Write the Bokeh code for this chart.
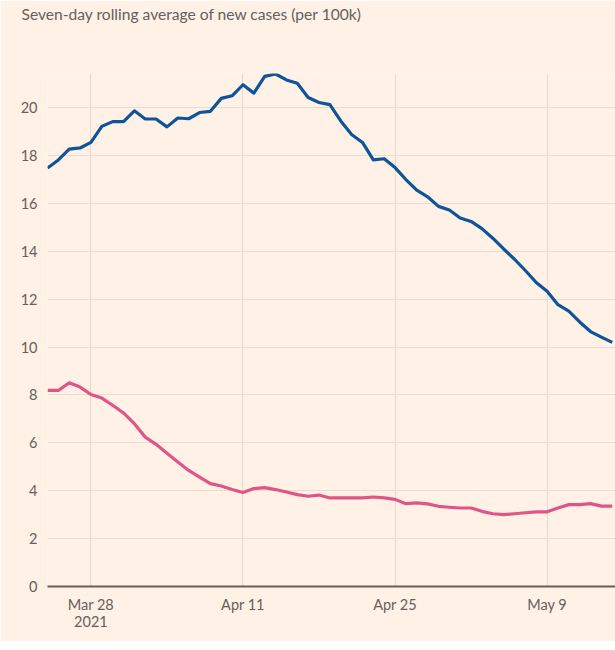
import pandas as pd
from bokeh.plotting import figure
from bokeh.models import FixedTicker, DatetimeTickFormatter, Range1d, Title
from bokeh.embed import file_html
from bokeh.resources import INLINE

# ---- data ----
dates = pd.date_range("2021-03-24", "2021-05-15", freq="D")
blue_series = [17.48, 17.82, 18.27, 18.32, 18.55, 19.22, 19.42, 19.42, 19.87, 19.53,
               19.53, 19.20, 19.57, 19.54, 19.80, 19.85, 20.39, 20.50, 20.96, 20.61,
               21.31, 21.41, 21.16, 21.02, 20.43, 20.22, 20.13, 19.45, 18.88, 18.55,
               17.82, 17.87, 17.50, 17.00, 16.56, 16.28, 15.88, 15.73, 15.39, 15.25,
               14.95, 14.55, 14.10, 13.67, 13.20, 12.70, 12.33, 11.77, 11.50, 11.05,
               10.65, 10.42, 10.20]
pink_series = [8.19, 8.19, 8.51, 8.33, 8.02, 7.87, 7.57, 7.25, 6.80, 6.24,
               5.94, 5.57, 5.20, 4.85, 4.57, 4.30, 4.20, 4.05, 3.93, 4.09,
               4.13, 4.05, 3.95, 3.84, 3.77, 3.82, 3.70, 3.70, 3.70, 3.70,
               3.74, 3.70, 3.64, 3.46, 3.49, 3.45, 3.35, 3.31, 3.28, 3.28,
               3.14, 3.04, 3.00, 3.04, 3.08, 3.12, 3.12, 3.28, 3.42, 3.42,
               3.46, 3.36, 3.36]
x_tick_dates = ["2021-03-28", "2021-04-11", "2021-04-25", "2021-05-09"]
y_ticks = [0, 2, 4, 6, 8, 10, 12, 14, 16, 18, 20]
title_text = "Seven-day rolling average of new cases (per 100k)"

BG = "#FFF1E5"
GRID = "#E9DCD1"
TEXT = "#66605C"
FONT = "Lato"

def ms(d):
    return pd.Timestamp(d).value / 1e6

x_start = ms("2021-03-24")
x_end = ms("2021-05-15") + 0.3 * 86400000

FW, FH = 568, 513
p = figure(frame_width=FW, frame_height=FH, x_axis_type="datetime",
           output_backend="svg", toolbar_location=None,
           x_range=Range1d(x_start, x_end), y_range=Range1d(0, 21.43),
           min_border_left=47, min_border_right=0, min_border_top=0,
           min_border_bottom=55)
p.background_fill_color = BG
p.border_fill_color = BG
p.outline_line_color = None

# spacer panel (closest to the frame), then the visible title above it
spacer = Title(text=" ", text_font=FONT, text_font_size="15.5px", standoff=29)
p.add_layout(spacer, "above")
title = Title(text=title_text, text_font=FONT, text_font_size="15.6px",
              text_font_style="normal", text_color=TEXT, align="left",
              offset=-26, standoff=4)
p.add_layout(title, "above")

p.line(dates, blue_series, line_color="#0F5499", line_width=3.2, line_join="round")
p.line(dates, pink_series, line_color="#E05588", line_width=3.2, line_join="round")

# axes
xa = p.xaxis[0]
xa.ticker = FixedTicker(ticks=[ms(d) for d in x_tick_dates])
xa.formatter = DatetimeTickFormatter(days="%b %-d", months="%b %-d",
                                     context=DatetimeTickFormatter(days="%Y", months="%Y"),
                                     context_which="start")
xa.axis_line_color = TEXT
xa.axis_line_width = 2
xa.major_tick_line_color = None
xa.minor_tick_line_color = None
xa.major_label_text_font = FONT
xa.major_label_text_font_size = "14.5px"
xa.major_label_text_color = TEXT
xa.major_label_text_line_height = 1.0
xa.major_label_standoff = 3

ya = p.yaxis[0]
ya.ticker = FixedTicker(ticks=y_ticks)
ya.axis_line_color = None
ya.major_tick_line_color = None
ya.minor_tick_line_color = None
ya.major_label_text_font = FONT
ya.major_label_text_font_size = "14.5px"
ya.major_label_text_color = TEXT
ya.major_label_standoff = 4

p.xgrid[0].ticker = FixedTicker(ticks=[x_start] + [ms(d) for d in x_tick_dates])
p.xgrid.grid_line_color = GRID
p.ygrid.grid_line_color = GRID
p.xgrid.grid_line_width = 1.2
p.ygrid.grid_line_width = 1.2

open("out.html", "w").write(file_html(p, INLINE))
